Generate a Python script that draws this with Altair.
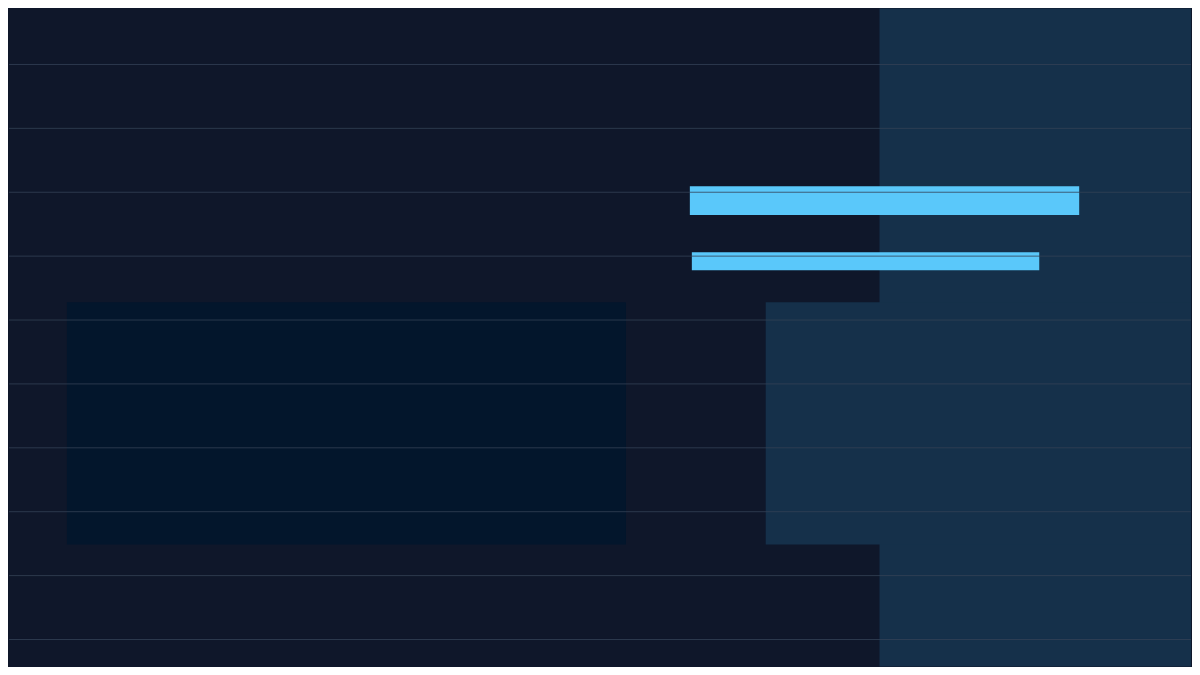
import altair as alt
import pandas as pd

# x in units of 10 px, y in grid rows (64 px per row), rows counted from the top
panel_x0 = [88.0]
panel_x1 = [120.0]
panel_y0 = [0.0]
panel_y1 = [10.546875]

band_x0 = [76.6]
band_x1 = [120.0]
band_y0 = [4.72]
band_y1 = [8.515]

shade_x0 = [6.6]
shade_x1 = [62.6]
shade_y0 = [4.72]
shade_y1 = [8.515]

bar_x0 = [69.0, 69.2]
bar_x1 = [108.0, 104.0]
bar_y0 = [2.906, 3.9375]
bar_y1 = [3.355, 4.219]

grid_rows = [1, 2, 3, 4, 5, 6, 7, 8, 9, 10]

XD = [0.8, 119.2]
YD = [0.125, 10.421875]

xs = alt.Scale(domain=XD, nice=False, zero=False, clamp=True)
ys = alt.Scale(domain=YD, nice=False, zero=False, reverse=True, clamp=True)


def rects(x0, x1, y0, y1):
    return pd.DataFrame({"x0": x0, "x1": x1, "y0": y0, "y1": y1})


def layer(df, color):
    return alt.Chart(df).mark_rect(color=color, strokeWidth=0).encode(
        x=alt.X("x0:Q", scale=xs, axis=None),
        x2="x1:Q",
        y=alt.Y("y0:Q", scale=ys, axis=None),
        y2="y1:Q",
    )


panel = layer(rects(panel_x0, panel_x1, panel_y0, panel_y1), "#15304a")
band = layer(rects(band_x0, band_x1, band_y0, band_y1), "#15304a")
shade = layer(rects(shade_x0, shade_x1, shade_y0, shade_y1), "#03162c")
bars = layer(rects(bar_x0, bar_x1, bar_y0, bar_y1), "#5ac8fa")

grid = alt.Chart(pd.DataFrame({"row": grid_rows})).mark_rule(
    color="#334155", strokeWidth=1, opacity=0.8
).encode(y=alt.Y("row:Q", scale=ys, axis=None))

chart = (
    alt.layer(panel, band, shade, bars, grid)
    .properties(width=1184, height=659, padding=0, background="#0f172a")
    .configure_view(stroke=None, fill="#0f172a")
)

chart.save("out.html", embed_options={"renderer": "svg", "actions": False})
